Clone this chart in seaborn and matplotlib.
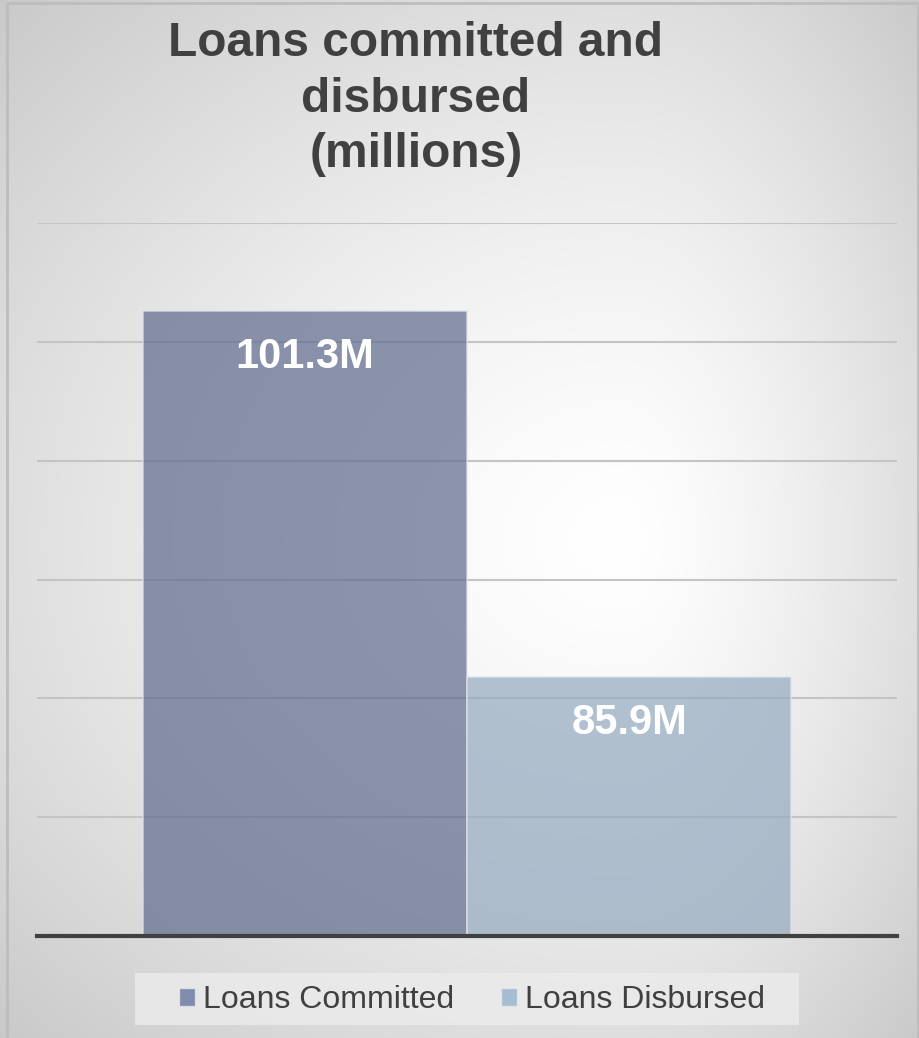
import numpy as np
import pandas as pd
import matplotlib
matplotlib.use("Agg")
import matplotlib.pyplot as plt
from matplotlib.patches import Patch, Rectangle
import seaborn as sns

# ---- data ----
series = ["Loans Committed", "Loans Disbursed"]
values = [101.3, 85.9]
labels = ["101.3M", "85.9M"]
title = "Loans committed and\ndisbursed\n(millions)"

sns.set_theme(style="white")
plt.rcParams["font.family"] = ["Liberation Sans", "DejaVu Sans"]

W, H = 920, 1038
fig = plt.figure(figsize=(W / 100, H / 100), dpi=100)

# background gradient
bg = fig.add_axes([0, 0, 1, 1], zorder=-10)
xs = np.arange(W)
ys = np.arange(H)
X, Y = np.meshgrid(xs, ys)
cx, cy = 620, 540
dx = np.where(X < cx, (X - cx) / cx, (X - cx) / (W - cx))
dy = np.where(Y < cy, (Y - cy) / cy, (Y - cy) / (H - cy))
d = np.sqrt(dx ** 2 + dy ** 2)
v = 255 - 33 * d ** 1.4
v = np.clip(v, 190, 255) / 255.0
img = np.dstack([v, v, v])
bg.imshow(img, aspect="auto", extent=[0, W, H, 0])
bg.set_xlim(0, W)
bg.set_ylim(H, 0)
bg.axis("off")
bg.add_patch(Rectangle((7, 3), 911, 1040, fill=False, edgecolor="#bdbdbd", lw=2))

# main axes
left, right = 37 / W, 897 / W
bottom, top = 1 - 936 / H, 1 - 223 / H
ax = fig.add_axes([left, bottom, right - left, top - bottom])
ax.set_facecolor("none")

df = pd.DataFrame({"cat": ["Loans"] * len(series), "series": series, "value": values})
palette = ["#5a6898", "#8eabc7"]
sns.barplot(data=df, x="cat", y="value", hue="series", palette=palette,
            width=0.754, dodge=True, ax=ax, legend=False, alpha=0.72,
            edgecolor="#dfe4ee", linewidth=1.2, zorder=3)

ax.set_ylim(75, 105)
ax.set_xlim(-0.5, 0.5)
ax.set_yticks([80, 85, 90, 95, 100, 105])
ax.yaxis.grid(True, color="#c4c4c4", lw=1.5, zorder=1)
ax.set_axisbelow(True)
ax.tick_params(left=False, bottom=False, labelleft=False, labelbottom=False)
ax.set_xlabel("")
ax.set_ylabel("")
for s in ["left", "right", "top"]:
    ax.spines[s].set_visible(False)
ax.spines["bottom"].set_color("#404040")
ax.spines["bottom"].set_linewidth(3)
ax.spines["bottom"].set_zorder(5)

bars = [p for p in ax.patches if p.get_height() > 0]
bars.sort(key=lambda p: p.get_x())
for p, lab in zip(bars, labels):
    ax.annotate(lab, (p.get_x() + p.get_width() / 2, p.get_height()),
                xytext=(0, -33), textcoords="offset points",
                ha="center", va="center", color="white",
                fontsize=30, fontweight="bold", zorder=6)

# title
fig.text(416 / W, 1 - 99 / H, title, ha="center", va="center",
         fontsize=34.5, fontweight="bold", color="#404040", linespacing=1.3)

# legend box
fig.patches.append(Rectangle((135 / W, 1 - 1025 / H), 664 / W, 52 / H,
                             transform=fig.transFigure, facecolor="#ececec",
                             edgecolor="none", alpha=0.8, zorder=1))
handles = [Patch(facecolor=c, edgecolor="#e8ecf2", alpha=0.72, lw=1) for c in palette]
fig.legend(handles, series, loc="center", bbox_to_anchor=(472 / W, 1 - 1000 / H),
           ncol=2, frameon=False, fontsize=23, handlelength=0.5, handleheight=0.5,
           handletextpad=0.25, columnspacing=1.45, labelcolor="#404040")

fig.savefig("out.png", dpi=100)
